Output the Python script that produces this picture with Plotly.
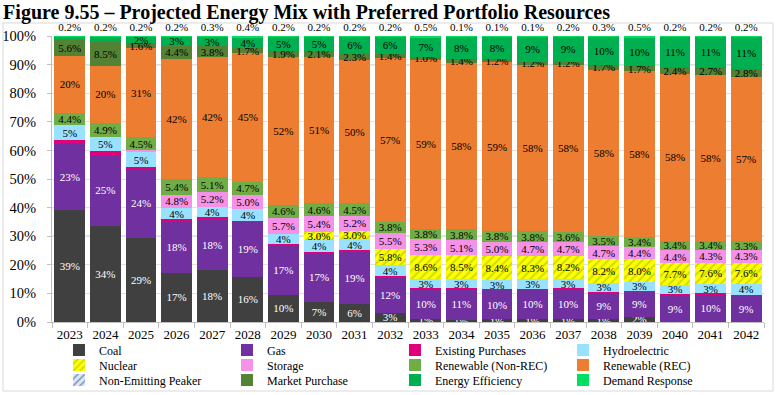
import plotly.graph_objects as go

years = [str(y) for y in range(2023, 2043)]

coal = [39.3, 33.7, 29.4, 17.2, 18.2, 15.8, 9.6, 7.1, 6.2, 3.3, 1.2, 0.8, 1.0, 1.0, 1.0, 1.0, 1.8, 0, 0, 0]
gas = [22.8, 24.8, 24.4, 18.1, 17.8, 19.3, 17.2, 17.1, 18.6, 12.3, 10.3, 10.7, 10.2, 10.3, 10.4, 9.2, 8.9, 9.4, 9.7, 9.3]
existing_purchases = [1.5, 1.2, 0.3, 0.6, 0.6, 0.4, 0.4, 0.3, 0.3, 0.4, 0.3, 0.3, 0.3, 0.3, 0.4, 0.3, 0.3, 0.4, 0.3, 0.3]
hydro = [5.2, 5.1, 5.2, 3.9, 3.7, 3.9, 3.6, 4.1, 3.8, 3.9, 3.2, 3.2, 3.2, 3.3, 3.2, 3.2, 3.0, 3.2, 3.2, 3.6]
nuclear = [0, 0, 0, 0, 0, 0, 0, 3.0, 3.0, 5.8, 8.6, 8.5, 8.4, 8.3, 8.2, 8.2, 8.0, 7.7, 7.6, 7.6]
storage = [0, 0, 0.8, 4.8, 5.2, 5.0, 5.7, 5.4, 5.2, 5.5, 5.3, 5.1, 5.0, 4.7, 4.7, 4.7, 4.4, 4.4, 4.3, 4.3]
renew_nonrec = [4.4, 4.9, 4.5, 5.4, 5.1, 4.7, 4.6, 4.6, 4.5, 3.8, 3.8, 3.8, 3.8, 3.8, 3.6, 3.5, 3.4, 3.4, 3.4, 3.3]
renew_rec = [19.8, 19.8, 31.3, 42.1, 42.0, 45.0, 51.7, 51.2, 49.9, 57.4, 59.0, 58.2, 58.9, 58.2, 58.4, 58.2, 58.0, 58.2, 57.9, 57.4]
non_emitting_peaker = [0] * 20
market_purchase = [5.6, 8.5, 1.6, 4.4, 3.8, 1.7, 1.9, 2.1, 2.3, 1.4, 1.0, 1.4, 1.2, 1.2, 1.2, 1.7, 1.7, 2.4, 2.7, 2.8]
energy_efficiency = [1.2, 1.8, 2.3, 3.3, 3.3, 3.8, 5.1, 4.9, 6.0, 6.0, 6.8, 7.9, 7.9, 8.8, 8.7, 9.7, 10.0, 10.7, 10.7, 11.2]
demand_response = [0.2, 0.2, 0.2, 0.2, 0.3, 0.4, 0.2, 0.2, 0.2, 0.2, 0.5, 0.1, 0.1, 0.1, 0.2, 0.3, 0.5, 0.2, 0.2, 0.2]

y_tick_values = [0, 10, 20, 30, 40, 50, 60, 70, 80, 90, 100]
y_tick_labels = ["0%", "10%", "20%", "30%", "40%", "50%", "60%", "70%", "80%", "90%", "100%"]

SERIF = "Liberation Serif, Times New Roman, Times, serif"

# name, values, color, label decimals (None = no label), min labelled value, label color, pattern, legend row
series = [
    ("Coal", coal, "#404040", 0, 0, "white", None, "legend"),
    ("Gas", gas, "#7030A0", 0, 0, "white", None, "legend"),
    ("Existing Purchases", existing_purchases, "#E0007A", None, 0, "black", None, "legend"),
    ("Hydroelectric", hydro, "#99E2FF", 0, 0, "black", None, "legend"),
    ("Nuclear", nuclear, "#FFFF00", 1, 0, "black", dict(shape="/", fgcolor="#9DBB00", size=6, solidity=0.35), "legend2"),
    ("Storage", storage, "#F592E8", 1, 1, "black", None, "legend2"),
    ("Renewable (Non-REC)", renew_nonrec, "#70AD47", 1, 0, "black", None, "legend2"),
    ("Renewable (REC)", renew_rec, "#ED7D31", 0, 0, "black", None, "legend2"),
    ("Non-Emitting Peaker", non_emitting_peaker, "#DCE6F5", 1, 0, "black", dict(shape="/", fgcolor="#2F5597", size=6, solidity=0.35), "legend3"),
    ("Market Purchase", market_purchase, "#548235", 1, 0, "black", None, "legend3"),
    ("Energy Efficiency", energy_efficiency, "#00B050", 0, 2, "black", None, "legend3"),
    ("Demand Response", demand_response, "#00E060", 1, 0, "black", None, "legend3"),
]


def fmt(v, d, vmin):
    if d is None or v == 0 or v < vmin:
        return ""
    return f"{v:.{d}f}%"


fig = go.Figure()
for name, vals, color, dec, vmin, tcolor, pattern, leg in series:
    marker = dict(color=color, line=dict(width=0))
    if pattern:
        marker["pattern"] = pattern
    is_top = name == "Demand Response"
    fig.add_trace(go.Bar(
        name=name, x=years, y=vals, marker=marker, legend=leg,
        text=[fmt(v, dec, vmin) for v in vals],
        textposition="outside" if is_top else "inside",
        insidetextanchor="middle",
        textangle=0,
        cliponaxis=not is_top,
        textfont=dict(family=SERIF, size=11, color=tcolor),
        outsidetextfont=dict(family=SERIF, size=11, color="black"),
        hoverinfo="skip",
    ))

shapes = []
for v in [30, 60, 90]:
    shapes.append(dict(type="line", xref="paper", x0=0, x1=1, yref="y", y0=v, y1=v,
                       line=dict(color="#a6a6a6", width=1), layer="below"))
shapes.append(dict(type="rect", xref="paper", yref="paper", x0=-0.0688, x1=1.0126,
                   y0=-0.2413, y1=1.0455, line=dict(color="#d9d9d9", width=1)))


def legend_row(center_px):
    return dict(orientation="h", x=0.0098, xanchor="left", xref="paper",
                y=1 - center_px / 395, yanchor="middle", yref="container",
                entrywidth=123, entrywidthmode="pixels", traceorder="normal",
                bgcolor="rgba(0,0,0,0)",
                font=dict(family=SERIF, size=12, color="black"), itemwidth=30)


fig.update_layout(
    width=780, height=395,
    margin=dict(l=52, r=16, t=36, b=73, autoexpand=False),
    paper_bgcolor="white", plot_bgcolor="white",
    barmode="stack", bargap=0.13,
    uniformtext=dict(minsize=11, mode="show"),
    title=dict(text="Figure 9.55 – Projected Energy Mix with Preferred Portfolio Resources",
               x=0.004, xref="container", xanchor="left",
               y=1 - 12 / 395, yref="container", yanchor="middle",
               font=dict(family=SERIF, size=20, color="black", weight="bold")),
    font=dict(family=SERIF, color="black"),
    xaxis=dict(type="category", showline=True, linecolor="#bfbfbf", ticks="outside",
               tickson="boundaries", ticklen=5, tickcolor="#bfbfbf",
               tickfont=dict(family=SERIF, size=13, color="black"), showgrid=False),
    yaxis=dict(range=[0, 100.05], tickvals=y_tick_values, ticktext=y_tick_labels,
               showline=True, linecolor="#bfbfbf", ticks="outside", ticklen=4,
               tickcolor="#bfbfbf", gridcolor="#e0e0e0", zeroline=False,
               ticklabelstandoff=8,
               tickfont=dict(family=SERIF, size=14.5, color="black")),
    legend=legend_row(350),
    legend2=legend_row(365),
    legend3=legend_row(380),
    shapes=shapes,
)

fig.write_html("out.html", config={"displayModeBar": False},
               post_script="document.body.style.margin='0px';")
